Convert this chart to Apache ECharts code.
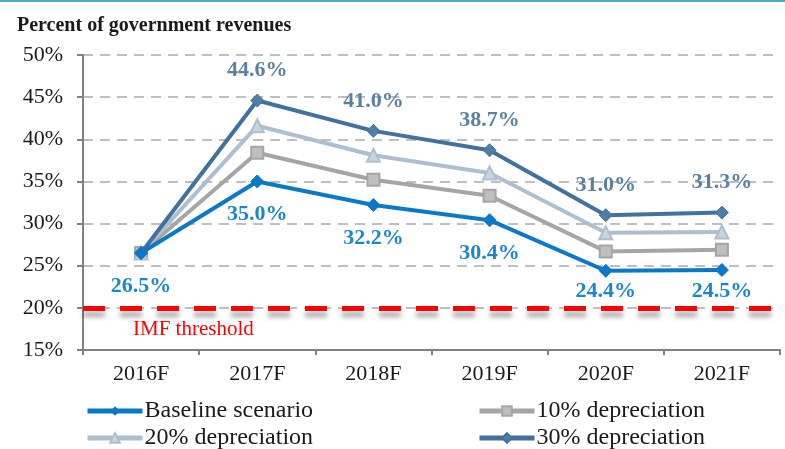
<!DOCTYPE html>
<html>
<head>
<meta charset="utf-8">
<script src="https://cdn.jsdelivr.net/npm/echarts@6/dist/echarts.min.js"></script>
<style>
  html, body { margin: 0; padding: 0; background: #fff; }
  #chart { width: 785px; height: 449px; border-top: 2px solid #4bacc6; box-sizing: border-box; }
</style>
</head>
<body>
<div id="chart"></div>
<script>
  var years = ['2016F', '2017F', '2018F', '2019F', '2020F', '2021F'];
  var baseline = [26.5, 35.0, 32.2, 30.4, 24.4, 24.5];
  var dep10 = [26.5, 38.4, 35.2, 33.3, 26.7, 26.9];
  var dep20 = [26.5, 41.6, 38.1, 36.0, 28.9, 29.0];
  var dep30 = [26.5, 44.6, 41.0, 38.7, 31.0, 31.3];
  var threshold = 20;

  var serif = '"Liberation Serif", "DejaVu Serif", serif';

  function pct(p) {
    return p.value.toFixed(1) + '%';
  }

  let chart = echarts.init(document.getElementById('chart'));

  // baseline labels below; the last two sit closer to their points
  let baselineData = baseline.map(function (v, i) {
    if (i >= 4) {
      return { value: v, label: { distance: 3 } };
    }
    return v;
  });
  // 30% labels above, none on the shared start point
  let dep30Data = dep30.map(function (v, i) {
    if (i === 0) {
      return { value: v, label: { show: false } };
    }
    return v;
  });

  let option = {
    animation: false,
    title: {
      text: 'Percent of government revenues',
      left: 12,
      top: 9,
      textStyle: {
        fontFamily: serif,
        fontWeight: 'bold',
        fontSize: 20,
        color: '#1a1a1a'
      }
    },
    legend: [
      { data: ['Baseline scenario'], left: 85, top: 397 },
      { data: ['10% depreciation'], left: 477, top: 397 },
      { data: ['20% depreciation'], left: 85, top: 424 },
      { data: ['30% depreciation'], left: 477, top: 424 }
    ].map(function (l) {
      l.itemWidth = 55;
      l.itemHeight = 12;
      l.itemGap = 0;
      l.padding = 0;
      l.lineStyle = { width: 5 };
      l.textStyle = { fontFamily: serif, fontSize: 24, color: '#1a1a1a', padding: [0, 0, 0, -3] };
      return l;
    }),
    grid: {
      left: 83,
      right: 5,
      top: 53,
      bottom: 99
    },
    xAxis: {
      type: 'category',
      data: years,
      boundaryGap: true,
      axisLine: { lineStyle: { color: '#808080', width: 2 } },
      axisTick: { show: true, length: 5, lineStyle: { color: '#808080', width: 2 } },
      axisLabel: { fontFamily: serif, fontSize: 22, color: '#1a1a1a', margin: 13 }
    },
    yAxis: {
      type: 'value',
      min: 15,
      max: 50,
      interval: 5,
      axisLine: { show: true, lineStyle: { color: '#808080', width: 2 } },
      axisTick: { show: true, length: 6, lineStyle: { color: '#808080', width: 2 } },
      axisLabel: { fontFamily: serif, fontSize: 22, color: '#1a1a1a', formatter: '{value}%', margin: 20 },
      splitLine: { lineStyle: { color: '#bfbfbf', width: 2, type: [10, 7] } }
    },
    series: [{
      name: 'Baseline scenario',
      type: 'line',
      data: baselineData,
      z: 5,
      symbol: 'diamond',
      symbolSize: 13,
      lineStyle: { color: '#0a78c8', width: 4 },
      itemStyle: { color: '#0a78c8', borderColor: '#0a78c8' },
      label: {
        show: true,
        position: 'bottom',
        distance: 15,
        formatter: pct,
        fontFamily: serif,
        fontWeight: 'bold',
        fontSize: 22,
        color: '#1a88c8'
      },
      markLine: {
        silent: true,
        symbol: 'none',
        data: [{ yAxis: threshold }],
        lineStyle: {
          color: '#ff0000',
          width: 5,
          type: [22, 15],
          shadowBlur: 5,
          shadowColor: 'rgba(0,0,0,0.35)',
          shadowOffsetY: 6
        },
        label: {
          show: true,
          position: 'insideStartBottom',
          formatter: 'IMF threshold',
          distance: [50, 11],
          fontFamily: serif,
          fontSize: 21,
          color: '#ff0000'
        }
      }
    }, {
      name: '10% depreciation',
      type: 'line',
      data: dep10,
      z: 3,
      symbol: 'rect',
      symbolSize: 12,
      lineStyle: { color: '#a5a5a5', width: 4 },
      itemStyle: { color: '#bfbfbf', borderColor: '#a5a5a5', borderWidth: 2 }
    }, {
      name: '20% depreciation',
      type: 'line',
      data: dep20,
      z: 3,
      symbol: 'triangle',
      symbolSize: 13,
      lineStyle: { color: '#adbfcf', width: 4 },
      itemStyle: { color: '#c8d5e0', borderColor: '#adbfcf', borderWidth: 2 }
    }, {
      name: '30% depreciation',
      type: 'line',
      data: dep30Data,
      z: 4,
      symbol: 'diamond',
      symbolSize: 13,
      lineStyle: { color: '#41719c', width: 4 },
      itemStyle: { color: '#4f7ea6', borderColor: '#41719c', borderWidth: 1 },
      label: {
        show: true,
        position: 'top',
        distance: 12,
        formatter: pct,
        fontFamily: serif,
        fontWeight: 'bold',
        fontSize: 22,
        color: '#5b80a0'
      }
    }]
  };
  chart.setOption(option);
</script>
</body>
</html>
